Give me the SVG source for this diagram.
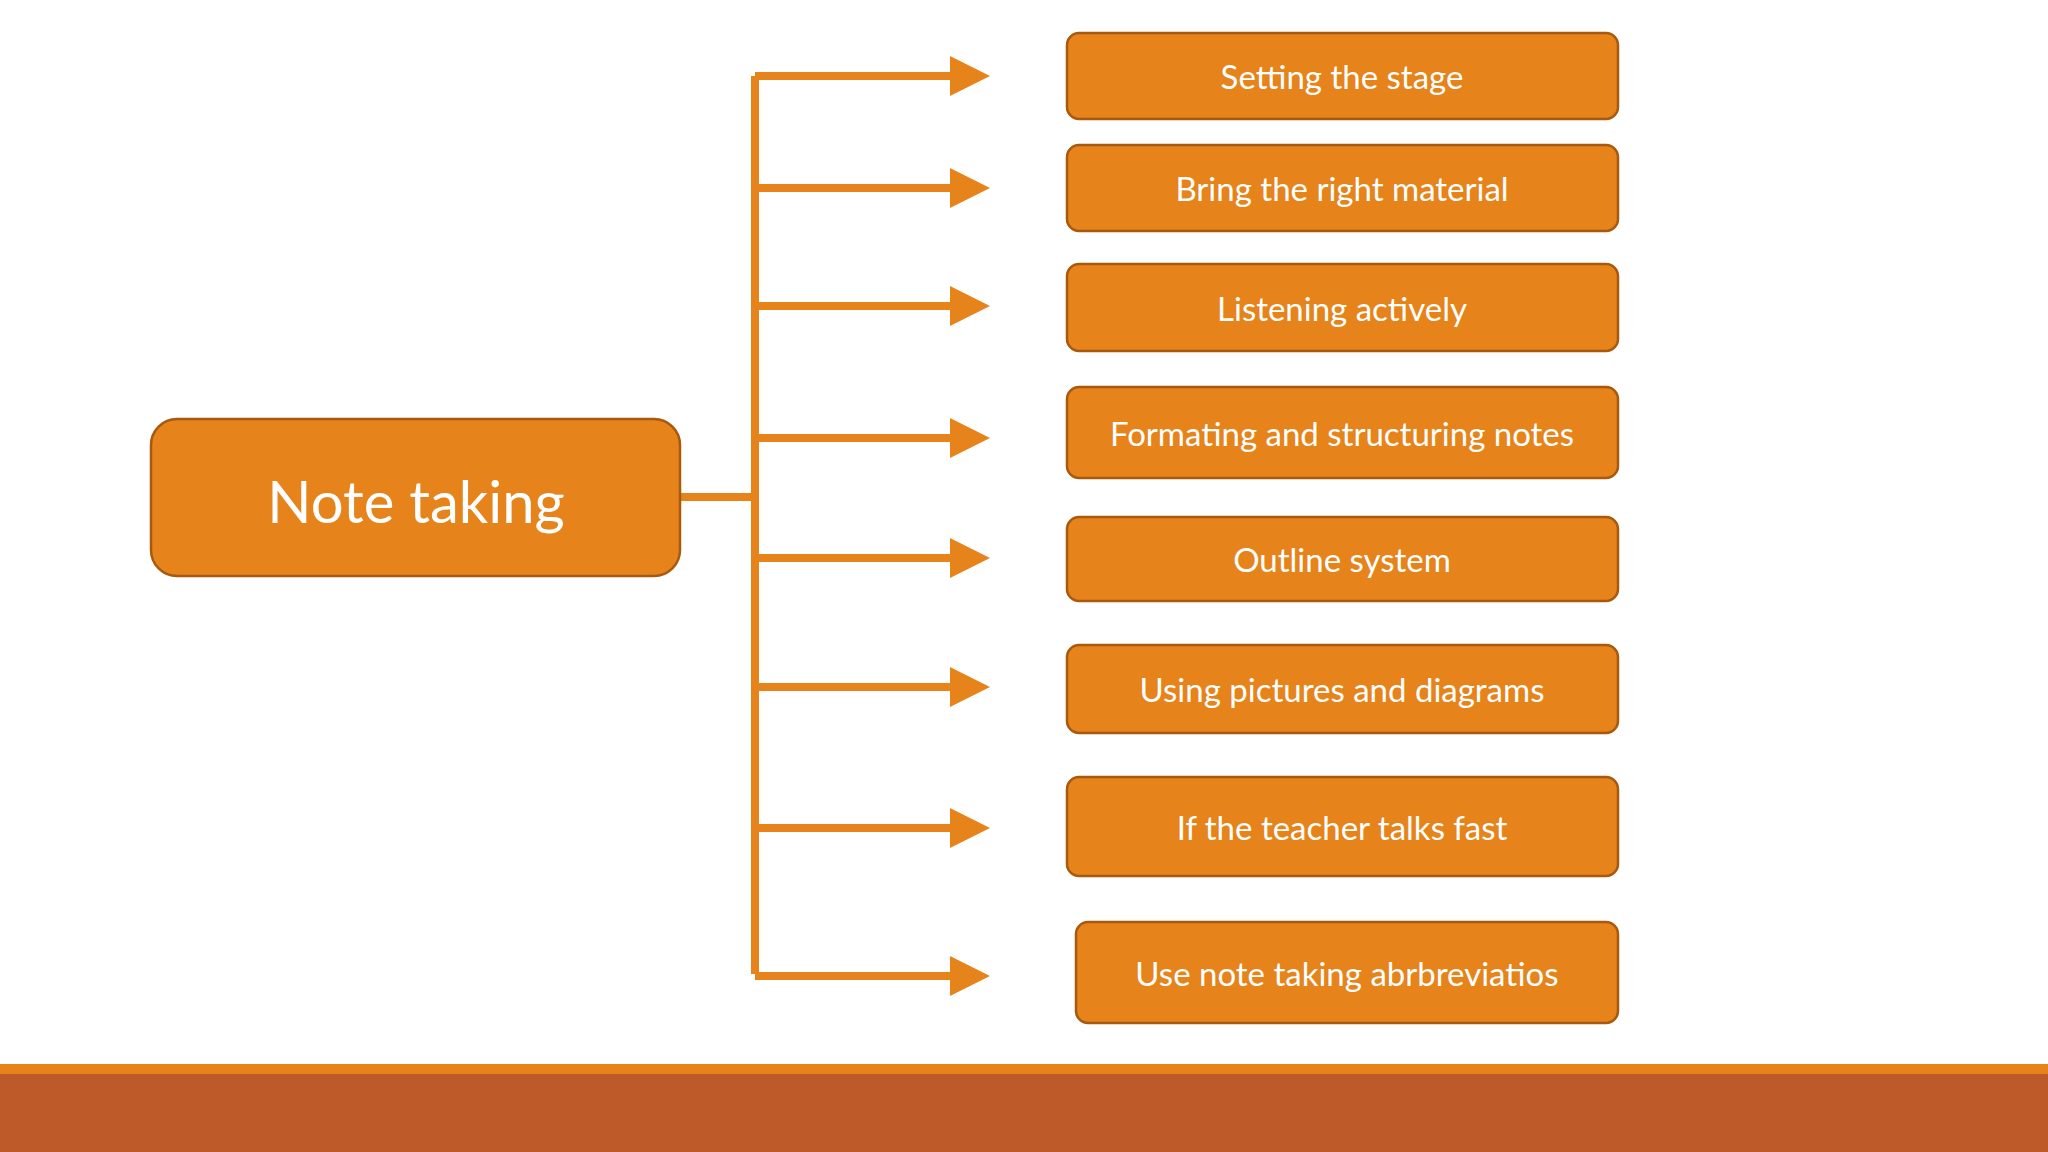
<svg xmlns="http://www.w3.org/2000/svg" width="2048" height="1152" viewBox="0 0 2048 1152">
<defs>
<style>
.box{fill:#E6831A;stroke:#A8590E;stroke-width:2.5}
.t{fill:#fff;font-family:Lato,"Open Sans",sans-serif;font-size:33px;text-anchor:middle;dominant-baseline:central}
.c{stroke:#E6831A;stroke-width:8;fill:none}
</style>
<marker id="ah" markerUnits="userSpaceOnUse" markerWidth="40" markerHeight="40" refX="0" refY="20" orient="auto" viewBox="0 0 40 40"><path d="M0,0 L40,20 L0,40 Z" fill="#E6831A"/></marker>
</defs>
<rect width="2048" height="1152" fill="#fff"/>
<g id="connectors">
<path class="c" d="M680,497 H755"/>
<path class="c" d="M755,76 V974"/>
<path class="c" marker-end="url(#ah)" d="M755,76 H950"/>
<path class="c" marker-end="url(#ah)" d="M755,188 H950"/>
<path class="c" marker-end="url(#ah)" d="M755,306 H950"/>
<path class="c" marker-end="url(#ah)" d="M755,438 H950"/>
<path class="c" marker-end="url(#ah)" d="M755,558 H950"/>
<path class="c" marker-end="url(#ah)" d="M755,687 H950"/>
<path class="c" marker-end="url(#ah)" d="M755,828 H950"/>
<path class="c" marker-end="url(#ah)" d="M755,976 H950"/>
</g>
<g id="main"><rect class="box" x="151" y="419" width="529" height="157" rx="26"/><text class="t" x="416" y="500" style="font-size:58px">Note taking</text></g>
<g id="n1"><rect class="box" x="1067" y="33" width="551" height="86" rx="12"/><text class="t" x="1342" y="76">Setting the stage</text></g>
<g id="n2"><rect class="box" x="1067" y="145" width="551" height="86" rx="12"/><text class="t" x="1342" y="188">Bring the right material</text></g>
<g id="n3"><rect class="box" x="1067" y="264" width="551" height="87" rx="12"/><text class="t" x="1342" y="308">Listening actively</text></g>
<g id="n4"><rect class="box" x="1067" y="387" width="551" height="91" rx="12"/><text class="t" x="1342" y="433">Formating and structuring notes</text></g>
<g id="n5"><rect class="box" x="1067" y="517" width="551" height="84" rx="12"/><text class="t" x="1342" y="559">Outline system</text></g>
<g id="n6"><rect class="box" x="1067" y="645" width="551" height="88" rx="12"/><text class="t" x="1342" y="689">Using pictures and diagrams</text></g>
<g id="n7"><rect class="box" x="1067" y="777" width="551" height="99" rx="12"/><text class="t" x="1342" y="827">If the teacher talks fast</text></g>
<g id="n8"><rect class="box" x="1076" y="922" width="542" height="101" rx="12"/><text class="t" x="1347" y="973">Use note taking abrbreviatios</text></g>
<rect x="0" y="1064" width="2048" height="10" fill="#E6831A"/>
<rect x="0" y="1074" width="2048" height="78" fill="#BE5A2A"/>
</svg>
